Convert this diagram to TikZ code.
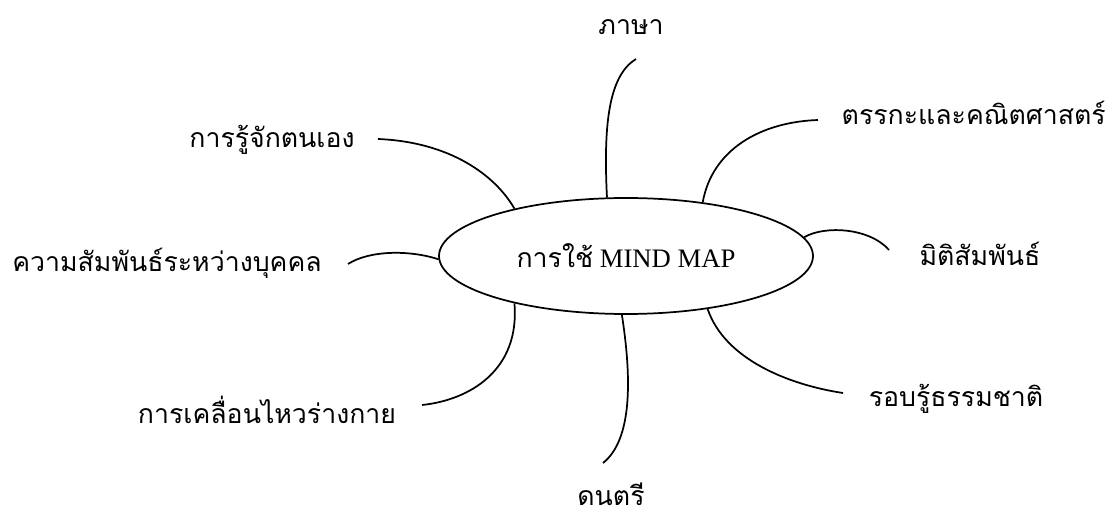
\documentclass[tikz,border=0pt]{standalone}
\usepackage{fontspec}
\setmainfont{Liberation Serif}
\newfontfamily\thaifont[Script=Thai]{Loma}
\usetikzlibrary{shapes.geometric}

\begin{document}
\begin{tikzpicture}[
    x=0.75pt, y=-0.75pt,
    hub/.style={ellipse, draw, line width=1.3pt, minimum width=280.5pt, minimum height=87pt, inner sep=0pt, font=\fontsize{20}{24}\selectfont},
    topic/.style={anchor=base, inner sep=0pt, font=\thaifont\fontsize{20}{24}\selectfont},
    branch/.style={line width=1.3pt},
]
\useasboundingbox (0,0) rectangle (1108,516);

% Centre
\node[hub] (hub) at (626,256) {{\thaifont การใช้} MIND MAP};

% Topics
\node[topic] (lang) at (631,35) {ภาษา};
\node[topic, anchor=base east] (logic) at (1106,125) {ตรรกะและคณิตศาสตร์};
\node[topic] (self) at (272,148) {การรู้จักตนเอง};
\node[topic] (social) at (167,272) {ความสัมพันธ์ระหว่างบุคคล};
\node[topic] (space) at (980,266) {มิติสัมพันธ์};
\node[topic] (body) at (267,424) {การเคลื่อนไหวร่างกาย};
\node[topic] (nature) at (956,407) {รอบรู้ธรรมชาติ};
\node[topic] (music) at (611,506) {ดนตรี};

% Branch ends
\coordinate (lang-end) at (636,59);
\coordinate (logic-end) at (818,120);
\coordinate (self-end) at (378,139);
\coordinate (social-end) at (348,264);
\coordinate (space-end) at (889,250);
\coordinate (body-end) at (422,405);
\coordinate (nature-end) at (843,393);
\coordinate (music-end) at (603,463);

% Branches
\draw[branch] (hub.108) .. controls (603,120) and (610,75) .. (lang-end);
\draw[branch] (hub.35) .. controls (712,150) and (760,122) .. (logic-end);
\draw[branch] (hub.157) .. controls (495,175) and (450,142) .. (self-end);
\draw[branch] (hub.181) .. controls (410,250) and (370,250) .. (social-end);
\draw[branch] (hub.6) .. controls (825,225) and (870,228) .. (space-end);
\draw[branch] (hub.203) .. controls (520,370) and (470,400) .. (body-end);
\draw[branch] (hub.327) .. controls (725,360) and (790,385) .. (nature-end);
\draw[branch] (hub.266) .. controls (632,380) and (632,440) .. (music-end);

\end{tikzpicture}
\end{document}
